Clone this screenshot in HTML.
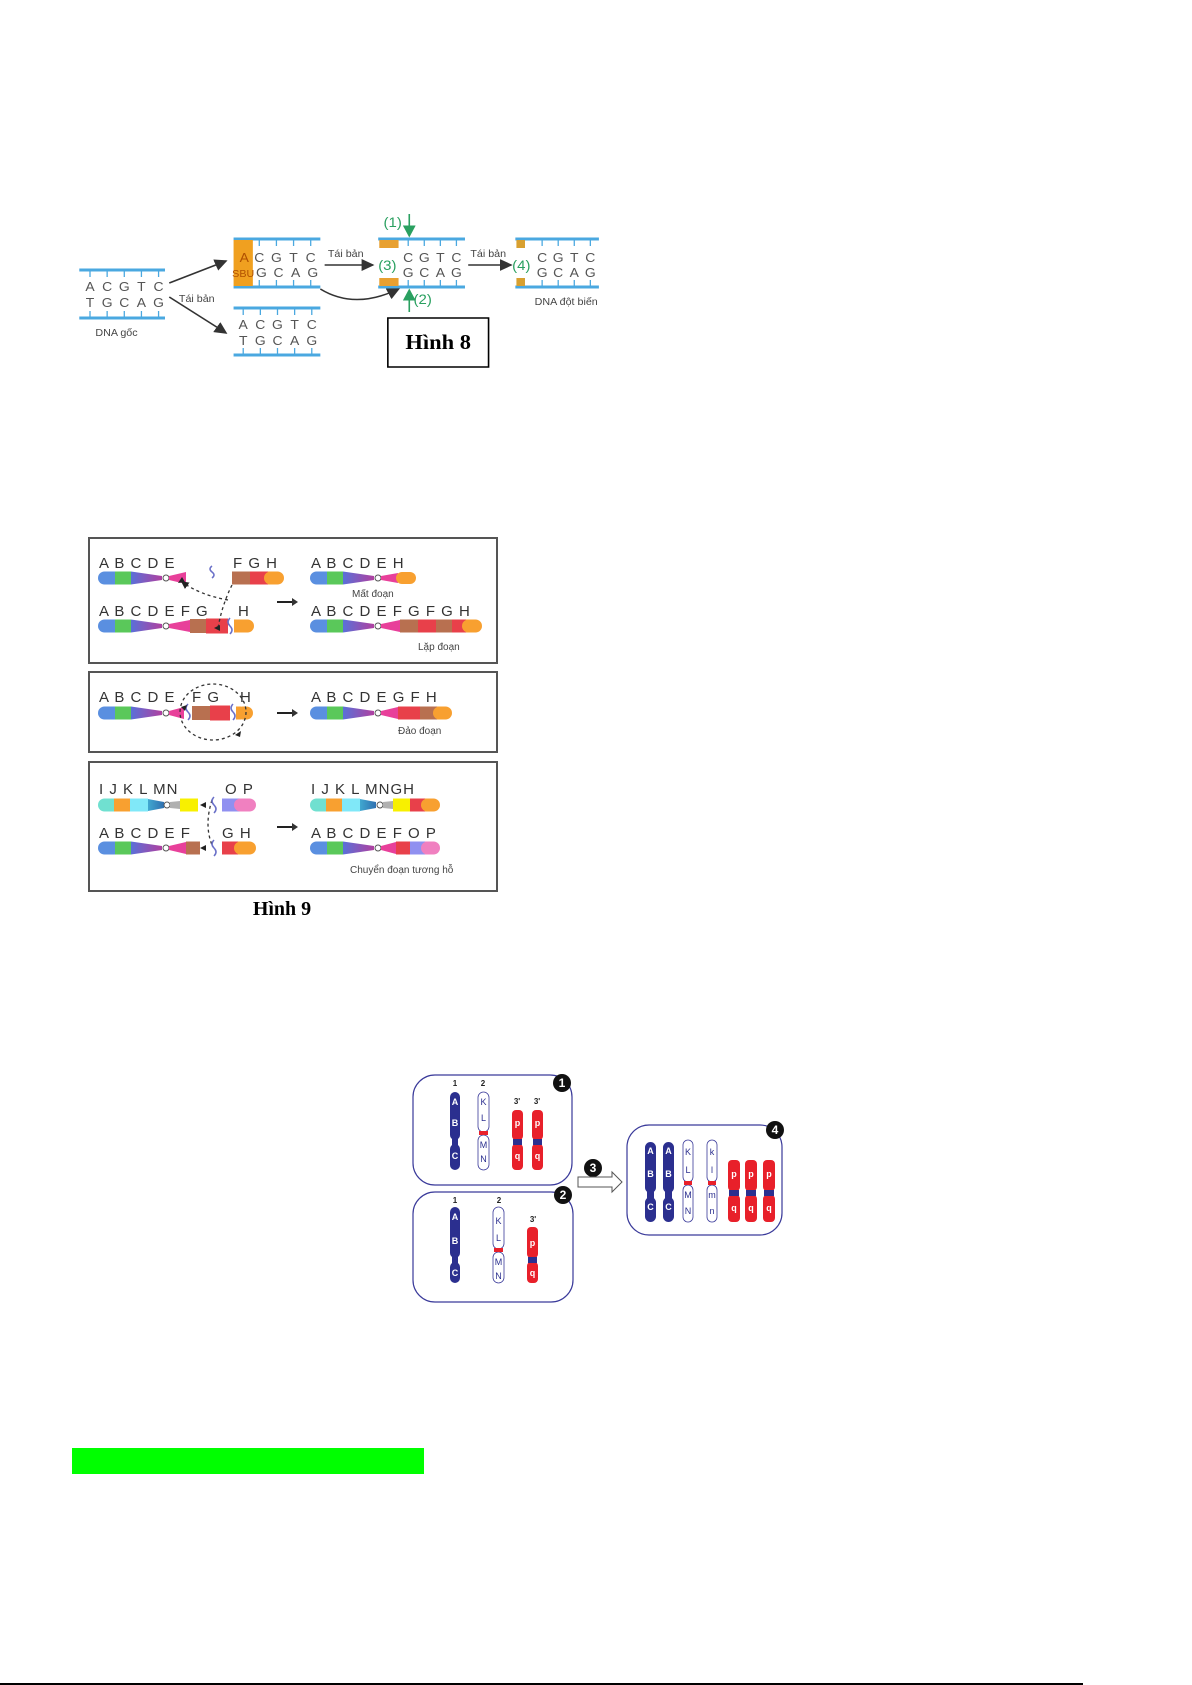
<!DOCTYPE html>
<html><head><meta charset="utf-8"><style>
html,body{margin:0;padding:0;background:#fff}
svg{display:block}
text{font-family:"Liberation Sans",sans-serif}
text.serif{font-family:"Liberation Serif",serif}
</style></head><body>
<svg width="1192" height="1685" viewBox="0 0 1192 1685" xmlns="http://www.w3.org/2000/svg">
<defs>
<linearGradient id="bp" x1="0" x2="1"><stop offset="0" stop-color="#5a70d8"/><stop offset="1" stop-color="#b040a0"/></linearGradient>
<linearGradient id="tb" x1="0" x2="1"><stop offset="0" stop-color="#40a8d0"/><stop offset="1" stop-color="#3070b0"/></linearGradient>
<marker id="ah" markerWidth="8" markerHeight="8" refX="7" refY="4" orient="auto"><path d="M0,0 L8,4 L0,8 z" fill="#333"/></marker>
<marker id="ahg" markerWidth="8" markerHeight="8" refX="7" refY="4" orient="auto"><path d="M0,0 L8,4 L0,8 z" fill="#2aa060"/></marker>
<marker id="ahs" markerWidth="6" markerHeight="6" refX="5" refY="3" orient="auto"><path d="M0,0 L6,3 L0,6 z" fill="#222"/></marker>
</defs>

<!-- ===== Hình 8 ===== -->
<g transform="translate(60,0) scale(1.0714,1) translate(-60,0)">
<g stroke="#4aa8e0" stroke-width="3" fill="none">
<line x1="78" y1="270" x2="158" y2="270"/><line x1="78" y1="318" x2="158" y2="318"/>
<line x1="222" y1="239" x2="303" y2="239"/><line x1="222" y1="287" x2="303" y2="287"/>
<line x1="222" y1="308" x2="303" y2="308"/><line x1="222" y1="355" x2="303" y2="355"/>
<line x1="357" y1="239" x2="438" y2="239"/><line x1="357" y1="287" x2="438" y2="287"/>
<line x1="485" y1="239" x2="563" y2="239"/><line x1="485" y1="287" x2="563" y2="287"/>
</g>
<g stroke="#4aa8e0" stroke-width="1.2">
<path d="M88 270v7M104 270v7M120 270v7M136 270v7M152 270v7M88 318v-7M104 318v-7M120 318v-7M136 318v-7M152 318v-7"/>
<path d="M246 239v7M262 239v7M278 239v7M294 239v7M246 287v-7M262 287v-7M278 287v-7M294 287v-7"/>
<path d="M231 308v7M247 308v7M263 308v7M279 308v7M295 308v7M231 355v-7M247 355v-7M263 355v-7M279 355v-7M295 355v-7"/>
<path d="M385 239v7M400 239v7M415 239v7M430 239v7M385 287v-7M400 287v-7M415 287v-7M430 287v-7"/>
<path d="M510 239v7M525 239v7M540 239v7M555 239v7M510 287v-7M525 287v-7M540 287v-7M555 287v-7"/>
</g>
<rect x="222" y="240" width="18" height="46" fill="#f0a020"/>
<rect x="358" y="240" width="18" height="8" fill="#e8a030"/><rect x="358" y="278" width="18" height="8" fill="#e8a030"/>
<rect x="486" y="240" width="8" height="8" fill="#d8a030"/><rect x="486" y="278" width="8" height="8" fill="#d8a030"/>
<g font-size="13" fill="#555" text-anchor="middle">
<text x="88" y="291">A</text><text x="104" y="291">C</text><text x="120" y="291">G</text><text x="136" y="291">T</text><text x="152" y="291">C</text>
<text x="88" y="307">T</text><text x="104" y="307">G</text><text x="120" y="307">C</text><text x="136" y="307">A</text><text x="152" y="307">G</text>
<text x="232" y="262" fill="#b05000">A</text><text x="246" y="262">C</text><text x="262" y="262">G</text><text x="278" y="262">T</text><text x="294" y="262">C</text>
<text x="231" y="277" font-size="10" fill="#b05000">SBU</text><text x="248" y="277">G</text><text x="264" y="277">C</text><text x="280" y="277">A</text><text x="296" y="277">G</text>
<text x="231" y="329">A</text><text x="247" y="329">C</text><text x="263" y="329">G</text><text x="279" y="329">T</text><text x="295" y="329">C</text>
<text x="231" y="345">T</text><text x="247" y="345">G</text><text x="263" y="345">C</text><text x="279" y="345">A</text><text x="295" y="345">G</text>
<text x="385" y="262">C</text><text x="400" y="262">G</text><text x="415" y="262">T</text><text x="430" y="262">C</text>
<text x="385" y="277">G</text><text x="400" y="277">C</text><text x="415" y="277">A</text><text x="430" y="277">G</text>
<text x="510" y="262">C</text><text x="525" y="262">G</text><text x="540" y="262">T</text><text x="555" y="262">C</text>
<text x="510" y="277">G</text><text x="525" y="277">C</text><text x="540" y="277">A</text><text x="555" y="277">G</text>
</g>
<g font-size="10" fill="#444">
<text x="93" y="336">DNA gốc</text><text x="171" y="302">Tái bản</text>
<text x="310" y="257">Tái bản</text><text x="443" y="257">Tái bản</text>
<text x="503" y="305">DNA đột biến</text>
</g>
<g font-size="14" fill="#2aa060">
<text x="357" y="270">(3)</text><text x="482" y="270">(4)</text>
<text x="362" y="227">(1)</text><text x="390" y="304">(2)</text>
</g>
<g stroke="#2aa060" stroke-width="1.5" fill="none">
<line x1="386" y1="214" x2="386" y2="236" marker-end="url(#ahg)"/>
<line x1="386" y1="312" x2="386" y2="290" marker-end="url(#ahg)"/>
</g>
<g stroke="#333" stroke-width="1.5" fill="none">
<line x1="162" y1="283" x2="215" y2="261" marker-end="url(#ah)"/>
<line x1="162" y1="297" x2="215" y2="333" marker-end="url(#ah)"/>
<line x1="307" y1="265" x2="352" y2="265" marker-end="url(#ah)"/>
<line x1="441" y1="265" x2="481" y2="265" marker-end="url(#ah)"/>
<path d="M303 289 Q335 310 376 289" marker-end="url(#ah)"/>
</g>
<rect x="366" y="318" width="94" height="49" fill="#fff" stroke="#000" stroke-width="1.5"/>
<text class="serif" x="413" y="349" font-weight="bold" font-size="21" text-anchor="middle">Hình 8</text>
</g>

<!-- ===== Hình 9 ===== -->
<g fill="none" stroke="#555" stroke-width="2">
<rect x="89" y="538" width="408" height="125"/>
<rect x="89" y="672" width="408" height="80"/>
<rect x="89" y="762" width="408" height="129"/>
</g>
<g fill="#333"><path d="M277 602h16" stroke="#222" stroke-width="2"/><path d="M292 598l6 4-6 4z"/>
<path d="M277 713h16" stroke="#222" stroke-width="2"/><path d="M292 709l6 4-6 4z"/>
<path d="M277 827h16" stroke="#222" stroke-width="2"/><path d="M292 823l6 4-6 4z"/></g>

<g>
<rect x="98" y="571.5" width="20" height="13" rx="6.5" fill="#5a8fe0"/><rect x="108" y="571.5" width="7" height="13" fill="#5a8fe0"/>
<rect x="115" y="571.5" width="16" height="13" fill="#5ac85a"/>
<polygon points="131,571.5 162,576 162,580 131,584.5" fill="url(#bp)"/>
<circle cx="166" cy="578" r="3" fill="#fff" stroke="#555"/>
<polygon points="169,576 186,572 186,584 169,580" fill="#e8409a"/>
<rect x="232" y="571.5" width="18" height="13" fill="#b87050"/><rect x="250" y="571.5" width="18" height="13" fill="#e8404a"/>
<rect x="264" y="571.5" width="20" height="13" rx="6.5" fill="#f8a030"/><rect x="268" y="571.5" width="5" height="13" fill="#f8a030"/>
</g>
<g>
<rect x="310" y="571.5" width="20" height="13" rx="6.5" fill="#5a8fe0"/><rect x="320" y="571.5" width="7" height="13" fill="#5a8fe0"/>
<rect x="327" y="571.5" width="16" height="13" fill="#5ac85a"/>
<polygon points="343,571.5 374,576 374,580 343,584.5" fill="url(#bp)"/>
<circle cx="378" cy="578" r="3" fill="#fff" stroke="#555"/>
<polygon points="381,576 398,573 398,583 381,580" fill="#e8409a"/>
<rect x="396" y="572" width="20" height="12" rx="6" fill="#f8a030"/>
</g>
<g>
<rect x="98" y="619.5" width="20" height="13" rx="6.5" fill="#5a8fe0"/><rect x="108" y="619.5" width="7" height="13" fill="#5a8fe0"/>
<rect x="115" y="619.5" width="16" height="13" fill="#5ac85a"/>
<polygon points="131,619.5 162,624 162,628 131,632.5" fill="url(#bp)"/>
<circle cx="166" cy="626" r="3" fill="#fff" stroke="#555"/>
<polygon points="169,624 190,620 190,632 169,628" fill="#e8409a"/>
<rect x="190" y="619" width="16" height="14" fill="#b87050"/><rect x="206" y="618.5" width="22" height="15" fill="#e8404a"/>
<rect x="234" y="619.5" width="20" height="13" rx="6.5" fill="#f8a030"/><rect x="234" y="619.5" width="6" height="13" fill="#f8a030"/>
</g>
<g>
<rect x="310" y="619.5" width="20" height="13" rx="6.5" fill="#5a8fe0"/><rect x="320" y="619.5" width="7" height="13" fill="#5a8fe0"/>
<rect x="327" y="619.5" width="16" height="13" fill="#5ac85a"/>
<polygon points="343,619.5 374,624 374,628 343,632.5" fill="url(#bp)"/>
<circle cx="378" cy="626" r="3" fill="#fff" stroke="#555"/>
<polygon points="381,624 400,620 400,632 381,628" fill="#e8409a"/>
<rect x="400" y="619.5" width="18" height="13" fill="#b87050"/><rect x="418" y="619.5" width="18" height="13" fill="#e8404a"/>
<rect x="436" y="619.5" width="16" height="13" fill="#b87050"/><rect x="452" y="619.5" width="14" height="13" fill="#e8404a"/>
<rect x="462" y="619.5" width="20" height="13" rx="6.5" fill="#f8a030"/><rect x="466" y="619.5" width="5" height="13" fill="#f8a030"/>
</g>
<g fill="none" stroke="#333" stroke-width="1.3" stroke-dasharray="3,3">
<path d="M228 600 Q200 595 182 582" marker-end="url(#ahs)"/>
<path d="M232 585 Q222 605 218 628"/>
</g>
<g fill="none" stroke="#6a70c8" stroke-width="1.5">
<path d="M212 566 q-4 3 0 6 q4 3 0 6"/><path d="M230 618 q-4 4 0 8 q4 4 0 8"/>
</g>
<g>
<rect x="98" y="706.5" width="20" height="13" rx="6.5" fill="#5a8fe0"/><rect x="108" y="706.5" width="7" height="13" fill="#5a8fe0"/>
<rect x="115" y="706.5" width="16" height="13" fill="#5ac85a"/>
<polygon points="131,706.5 162,711 162,715 131,719.5" fill="url(#bp)"/>
<circle cx="166" cy="713" r="3" fill="#fff" stroke="#555"/>
<polygon points="169,711 184,707 184,719 169,715" fill="#e8409a"/>
<rect x="192" y="706" width="18" height="14" fill="#b87050"/><rect x="210" y="705.5" width="20" height="15" fill="#e8404a"/>
<rect x="236" y="706.5" width="17" height="13" rx="6.5" fill="#f8a030"/><rect x="236" y="706.5" width="5" height="13" fill="#f8a030"/>
</g>
<g>
<rect x="310" y="706.5" width="20" height="13" rx="6.5" fill="#5a8fe0"/><rect x="320" y="706.5" width="7" height="13" fill="#5a8fe0"/>
<rect x="327" y="706.5" width="16" height="13" fill="#5ac85a"/>
<polygon points="343,706.5 374,711 374,715 343,719.5" fill="url(#bp)"/>
<circle cx="378" cy="713" r="3" fill="#fff" stroke="#555"/>
<polygon points="381,711 398,707 398,719 381,715" fill="#e8409a"/>
<rect x="398" y="706.5" width="22" height="13" fill="#e8404a"/><rect x="420" y="706.5" width="17" height="13" fill="#b87050"/>
<rect x="433" y="706.5" width="19" height="13" rx="6.5" fill="#f8a030"/><rect x="437" y="706.5" width="5" height="13" fill="#f8a030"/>
</g>
<ellipse cx="213" cy="712" rx="33" ry="28" fill="none" stroke="#333" stroke-width="1.3" stroke-dasharray="3,3"/>
<g fill="none" stroke="#6a70c8" stroke-width="1.5">
<path d="M188 704 q-4 4 0 8 q4 4 0 8"/><path d="M233 704 q-4 4 0 8 q4 4 0 8"/>
</g>
<g>
<rect x="98" y="798.5" width="20" height="13" rx="6.5" fill="#70e0d0"/><rect x="108" y="798.5" width="6" height="13" fill="#70e0d0"/>
<rect x="114" y="798.5" width="16" height="13" fill="#f8a030"/><rect x="130" y="798.5" width="18" height="13" fill="#80e8f8"/>
<polygon points="148,799 164,802 164,808 148,811" fill="url(#tb)"/>
<circle cx="167" cy="805" r="3" fill="#fff" stroke="#555"/>
<polygon points="170,802 180,801 180,809 170,808" fill="#b0b0b0"/>
<rect x="180" y="798.5" width="18" height="13" fill="#f8f000"/>
<rect x="222" y="798.5" width="18" height="13" fill="#9090f0"/>
<rect x="234" y="798.5" width="22" height="13" rx="6.5" fill="#f080c0"/><rect x="240" y="798.5" width="5" height="13" fill="#f080c0"/>
</g>
<g>
<rect x="310" y="798.5" width="20" height="13" rx="6.5" fill="#70e0d0"/><rect x="320" y="798.5" width="6" height="13" fill="#70e0d0"/>
<rect x="326" y="798.5" width="16" height="13" fill="#f8a030"/><rect x="342" y="798.5" width="18" height="13" fill="#80e8f8"/>
<polygon points="360,799 376,802 376,808 360,811" fill="url(#tb)"/>
<circle cx="380" cy="805" r="3" fill="#fff" stroke="#555"/>
<polygon points="383,802 393,801 393,809 383,808" fill="#b0b0b0"/>
<rect x="393" y="798.5" width="17" height="13" fill="#f8f000"/><rect x="410" y="798.5" width="15" height="13" fill="#e8404a"/>
<rect x="421" y="798.5" width="19" height="13" rx="6.5" fill="#f8a030"/><rect x="425" y="798.5" width="5" height="13" fill="#f8a030"/>
</g>
<g>
<rect x="98" y="841.5" width="20" height="13" rx="6.5" fill="#5a8fe0"/><rect x="108" y="841.5" width="7" height="13" fill="#5a8fe0"/>
<rect x="115" y="841.5" width="16" height="13" fill="#5ac85a"/>
<polygon points="131,841.5 162,846 162,850 131,854.5" fill="url(#bp)"/>
<circle cx="166" cy="848" r="3" fill="#fff" stroke="#555"/>
<polygon points="169,846 186,842 186,854 169,850" fill="#e8409a"/>
<rect x="186" y="841.5" width="14" height="13" fill="#b87050"/>
<rect x="222" y="841.5" width="16" height="13" fill="#e8404a"/>
<rect x="234" y="841.5" width="22" height="13" rx="6.5" fill="#f8a030"/><rect x="238" y="841.5" width="5" height="13" fill="#f8a030"/>
</g>
<g>
<rect x="310" y="841.5" width="20" height="13" rx="6.5" fill="#5a8fe0"/><rect x="320" y="841.5" width="7" height="13" fill="#5a8fe0"/>
<rect x="327" y="841.5" width="16" height="13" fill="#5ac85a"/>
<polygon points="343,841.5 374,846 374,850 343,854.5" fill="url(#bp)"/>
<circle cx="378" cy="848" r="3" fill="#fff" stroke="#555"/>
<polygon points="381,846 396,842 396,854 381,850" fill="#e8409a"/>
<rect x="396" y="841.5" width="14" height="13" fill="#e8404a"/><rect x="410" y="841.5" width="15" height="13" fill="#9090f0"/>
<rect x="421" y="841.5" width="19" height="13" rx="6.5" fill="#f080c0"/><rect x="425" y="841.5" width="5" height="13" fill="#f080c0"/>
</g>
<g fill="none" stroke="#333" stroke-width="1.3" stroke-dasharray="3,3">
<path d="M212 800 Q204 825 212 845"/>
</g>
<g fill="#222"><path d="M200 805l6-3v6z"/><path d="M200 848l6-3v6z"/><path d="M178 583l4 -6 3 5z"/><path d="M214 628l6-3v6z"/><path d="M187 705l-6 2 4 4z"/><path d="M241 731l-6 4 5 2z"/></g>
<g fill="none" stroke="#6a70c8" stroke-width="1.5">
<path d="M214 797 q-4 4 0 8 q4 4 0 8"/><path d="M214 840 q-4 4 0 8 q4 4 0 8"/>
</g>

<g font-size="15" fill="#333" letter-spacing="1">
<text x="99" y="568">A B C D E</text><text x="233" y="568">F G H</text>
<text x="311" y="568">A B C D  E H</text>
<text x="99" y="616">A B C D  E F G</text><text x="238" y="616">H</text>
<text x="311" y="616">A B C D  E F G F G H</text>
<text x="99" y="702">A B C D  E</text><text x="192" y="702">F G</text><text x="240" y="702">H</text>
<text x="311" y="702">A B C D  E G F H</text>
<text x="99" y="794">I J K L  MN</text><text x="225" y="794">O P</text>
<text x="311" y="794">I J K L  MNGH</text>
<text x="99" y="838">A B C D  E F</text><text x="222" y="838">G H</text>
<text x="311" y="838">A B C D  E F O P</text>
</g>
<g font-size="10" fill="#444">
<text x="352" y="597">Mất đoạn</text><text x="418" y="650">Lặp đoạn</text>
<text x="398" y="734">Đảo đoạn</text><text x="350" y="873">Chuyển đoạn tương hỗ</text>
</g>
<text class="serif" x="282" y="915" font-weight="bold" font-size="20" text-anchor="middle">Hình 9</text>

<!-- ===== Figure 3 ===== -->
<g fill="none" stroke="#3a3a9a" stroke-width="1.2">
<rect x="413" y="1075" width="159" height="110" rx="22"/>
<rect x="413" y="1192" width="160" height="110" rx="22"/>
<rect x="627" y="1125" width="155" height="110" rx="22"/>
</g>
<g fill="#111">
<circle cx="562" cy="1083" r="9"/><circle cx="563" cy="1195" r="9"/><circle cx="593" cy="1168" r="9"/><circle cx="775" cy="1130" r="9"/>
</g>
<g fill="#fff" font-size="12" font-weight="bold" text-anchor="middle">
<text x="562" y="1087">1</text><text x="563" y="1199">2</text><text x="593" y="1172">3</text><text x="775" y="1134">4</text>
</g>
<path d="M578 1177h34v-5l10 10-10 10v-5h-34z" fill="#fff" stroke="#555" stroke-width="1"/>

<g font-size="8" font-weight="bold" fill="#222" text-anchor="middle">
<text x="455" y="1086">1</text><text x="483" y="1086">2</text><text x="517" y="1104">3'</text><text x="537" y="1104">3'</text>
<text x="455" y="1203">1</text><text x="499" y="1203">2</text><text x="533" y="1222">3'</text>
</g>
<g fill="#2b2f8f">
<rect x="450" y="1092" width="10" height="48" rx="5"/><rect x="450" y="1144" width="10" height="26" rx="5"/><rect x="452" y="1138" width="6" height="8"/>
<rect x="450" y="1207" width="10" height="51" rx="5"/><rect x="450" y="1262" width="10" height="21" rx="5"/><rect x="452" y="1256" width="6" height="8"/>
<rect x="645" y="1142" width="11" height="51" rx="5.5"/><rect x="645" y="1197" width="11" height="25" rx="5.5"/><rect x="647" y="1191" width="7" height="8"/>
<rect x="663" y="1142" width="11" height="51" rx="5.5"/><rect x="663" y="1197" width="11" height="25" rx="5.5"/><rect x="665" y="1191" width="7" height="8"/>
</g>
<g fill="#fff" stroke="#3a3a9a" stroke-width="0.8">
<rect x="478" y="1092" width="11" height="40" rx="5.5"/><rect x="478" y="1135" width="11" height="35" rx="5.5"/>
<rect x="493" y="1207" width="11" height="42" rx="5.5"/><rect x="493" y="1252" width="11" height="31" rx="5.5"/>
<rect x="683" y="1140" width="10" height="42" rx="5"/><rect x="683" y="1185" width="10" height="37" rx="5"/>
<rect x="707" y="1140" width="10" height="42" rx="5"/><rect x="707" y="1185" width="10" height="37" rx="5"/>
</g>
<g fill="#e8202a">
<rect x="479" y="1131" width="9" height="4"/><rect x="494" y="1248" width="9" height="4"/>
<rect x="684" y="1181" width="8" height="4"/><rect x="708" y="1181" width="8" height="4"/>
</g>
<g fill="#e8202a">
<rect x="512" y="1110" width="11" height="30" rx="4"/><rect x="512" y="1144" width="11" height="26" rx="4"/>
<rect x="532" y="1110" width="11" height="30" rx="4"/><rect x="532" y="1144" width="11" height="26" rx="4"/>
<rect x="527" y="1227" width="11" height="31" rx="4"/><rect x="527" y="1262" width="11" height="21" rx="4"/>
<rect x="728" y="1160" width="12" height="31" rx="4"/><rect x="728" y="1195" width="12" height="27" rx="4"/>
<rect x="745" y="1160" width="12" height="31" rx="4"/><rect x="745" y="1195" width="12" height="27" rx="4"/>
<rect x="763" y="1160" width="12" height="31" rx="4"/><rect x="763" y="1195" width="12" height="27" rx="4"/>
</g>
<g fill="#2b2f8f">
<rect x="513" y="1139" width="9" height="6"/><rect x="533" y="1139" width="9" height="6"/><rect x="528" y="1257" width="9" height="6"/>
<rect x="729" y="1190" width="10" height="6"/><rect x="746" y="1190" width="10" height="6"/><rect x="764" y="1190" width="10" height="6"/>
</g>
<g font-size="9" font-weight="bold" fill="#fff" text-anchor="middle">
<text x="455" y="1105">A</text><text x="455" y="1126">B</text><text x="455" y="1159">C</text>
<text x="455" y="1220">A</text><text x="455" y="1244">B</text><text x="455" y="1276">C</text>
<text x="650.5" y="1154">A</text><text x="650.5" y="1177">B</text><text x="650.5" y="1210">C</text>
<text x="668.5" y="1154">A</text><text x="668.5" y="1177">B</text><text x="668.5" y="1210">C</text>
<text x="517.5" y="1126">p</text><text x="517.5" y="1159">q</text><text x="537.5" y="1126">p</text><text x="537.5" y="1159">q</text>
<text x="532.5" y="1246">p</text><text x="532.5" y="1276">q</text>
<text x="734" y="1177">p</text><text x="734" y="1211">q</text><text x="751" y="1177">p</text><text x="751" y="1211">q</text><text x="769" y="1177">p</text><text x="769" y="1211">q</text>
</g>
<g font-size="9" fill="#2b2f8f" text-anchor="middle">
<text x="483.5" y="1105">K</text><text x="483.5" y="1121">L</text><text x="483.5" y="1148">M</text><text x="483.5" y="1162">N</text>
<text x="498.5" y="1224">K</text><text x="498.5" y="1241">L</text><text x="498.5" y="1265">M</text><text x="498.5" y="1279">N</text>
<text x="688" y="1155">K</text><text x="688" y="1173">L</text><text x="688" y="1198">M</text><text x="688" y="1214">N</text>
<text x="712" y="1155">k</text><text x="712" y="1173">l</text><text x="712" y="1198">m</text><text x="712" y="1214">n</text>
</g>

<rect x="72" y="1448" width="352" height="26" fill="#00ff00"/>
<rect x="0" y="1683" width="1083" height="2" fill="#000"/>
</svg>
</body></html>
